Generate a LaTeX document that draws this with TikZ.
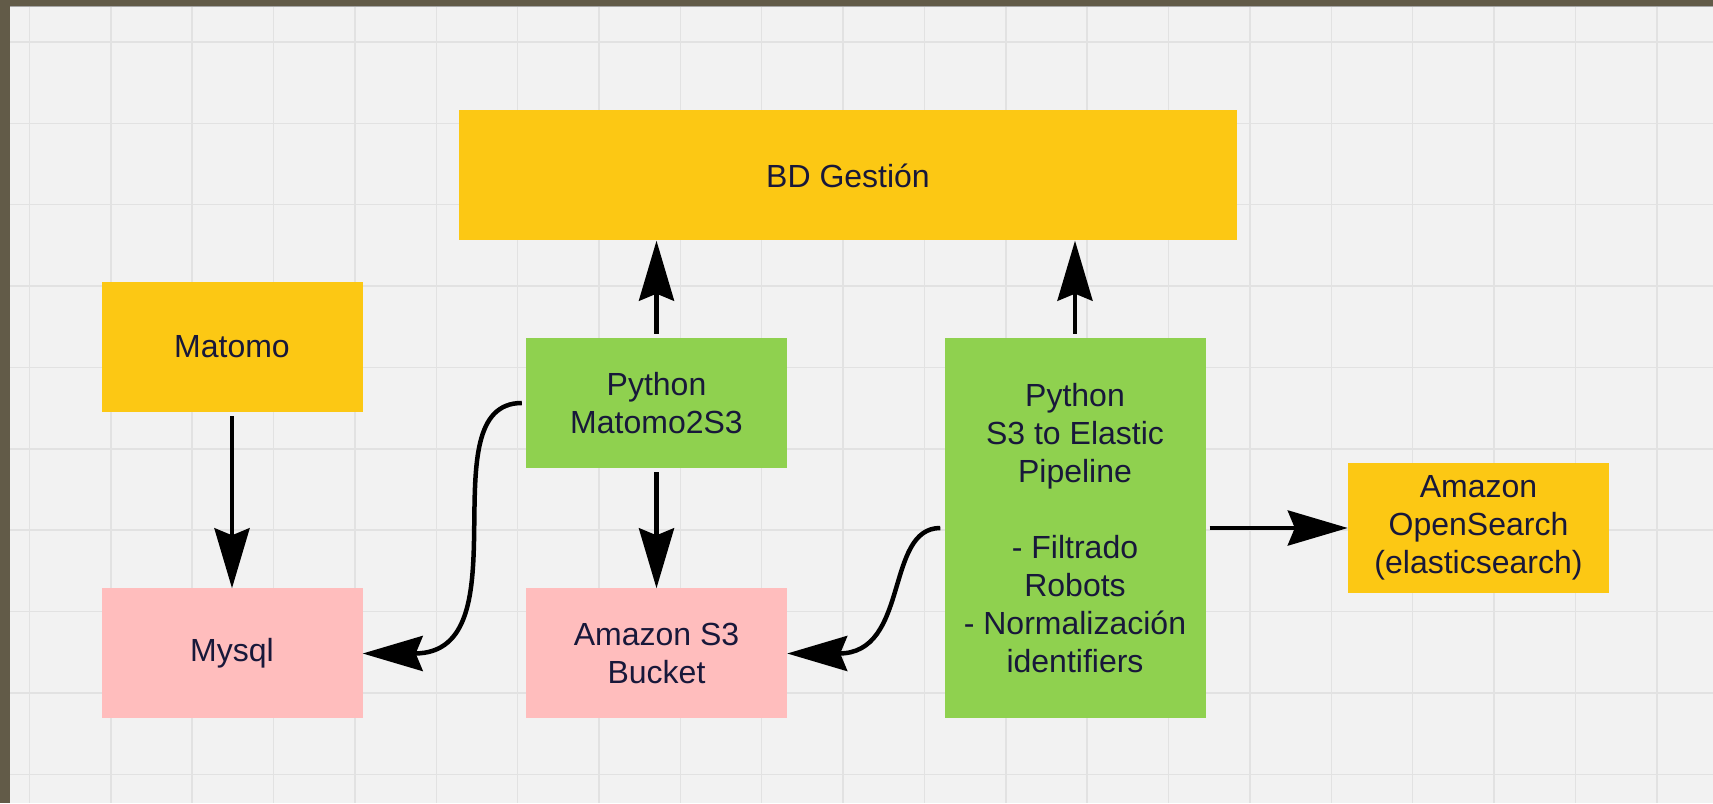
\documentclass[tikz,border=0pt]{standalone}
\usepackage{fontspec}
\setmainfont{Liberation Sans}
\usetikzlibrary{arrows.meta}

\definecolor{frame}{RGB}{98,91,72}
\definecolor{paper}{RGB}{242,242,242}
\definecolor{gridline}{RGB}{226,226,226}
\definecolor{lucidyellow}{RGB}{252,200,20}
\definecolor{lucidgreen}{RGB}{143,209,79}
\definecolor{lucidpink}{RGB}{255,189,189}
\definecolor{ink}{RGB}{24,24,58}

\begin{document}
\begin{tikzpicture}[x=1pt, y=1pt,
	box/.style={fill=#1, draw=none, minimum width=261pt, minimum height=130pt,
		align=center, text=ink, font=\fontsize{32}{38}\selectfont, inner sep=0pt},
	flow/.style={line width=4.5pt, -{Stealth[length=60pt, width=35pt, inset=7pt]}, shorten <=4pt}]
	% Background, frame and grid
	\useasboundingbox (0,0) rectangle (1713,803);
	\fill[paper] (0,0) rectangle (1713,803);
	\foreach \x in {0,...,20}
		\draw[gridline, line width=1.5pt] (29.4+81.37*\x,0) -- (29.4+81.37*\x,797);
	\foreach \y in {0,...,9}
		\draw[gridline, line width=1.5pt] (9,761-81.37*\y) -- (1713,761-81.37*\y);
	\draw[gray!70, line width=1pt] (9.5,796.5) -- (1713,796.5);
	\fill[frame] (0,0) rectangle (9.5,803);
	\fill[frame] (0,797) rectangle (1713,803);

	% Boxes
	\node[box=lucidyellow, minimum width=778pt] (bd) at (848,627.5) {BD Gestión};
	\node[box=lucidyellow] (matomo) at (232,456) {Matomo};
	\node[box=lucidgreen] (m2s3) at (656.5,400) {Python\\Matomo2S3};
	\node[box=lucidpink] (mysql) at (232,149.5) {Mysql};
	\node[box=lucidpink] (s3) at (656.5,149.5) {Amazon S3\\Bucket};
	\node[box=lucidgreen, minimum height=380pt] (s3e) at (1075,275)
		{Python\\S3 to Elastic\\Pipeline\\[38pt]- Filtrado\\Robots\\- Normalización\\identifiers};
	\node[box=lucidyellow] (os) at (1478.5,275) {Amazon\\OpenSearch\\(elasticsearch)};

	% Straight connectors
	\draw[flow] (matomo.south) -- (mysql.north);
	\draw[flow] (m2s3.north) -- (m2s3.north |- bd.south);
	\draw[flow] (m2s3.south) -- (s3.north);
	\draw[flow] (s3e.north) -- (s3e.north |- bd.south);
	\draw[flow] (s3e.east) -- (os.west);

	% Curved connectors
	\draw[flow] (m2s3.west) to[out=180, in=0, out distance=100pt, in distance=164pt] (mysql.east);
	\draw[flow] (s3e.west) to[out=180, in=0, out distance=60pt, in distance=123pt] (s3.east);
\end{tikzpicture}
\end{document}
